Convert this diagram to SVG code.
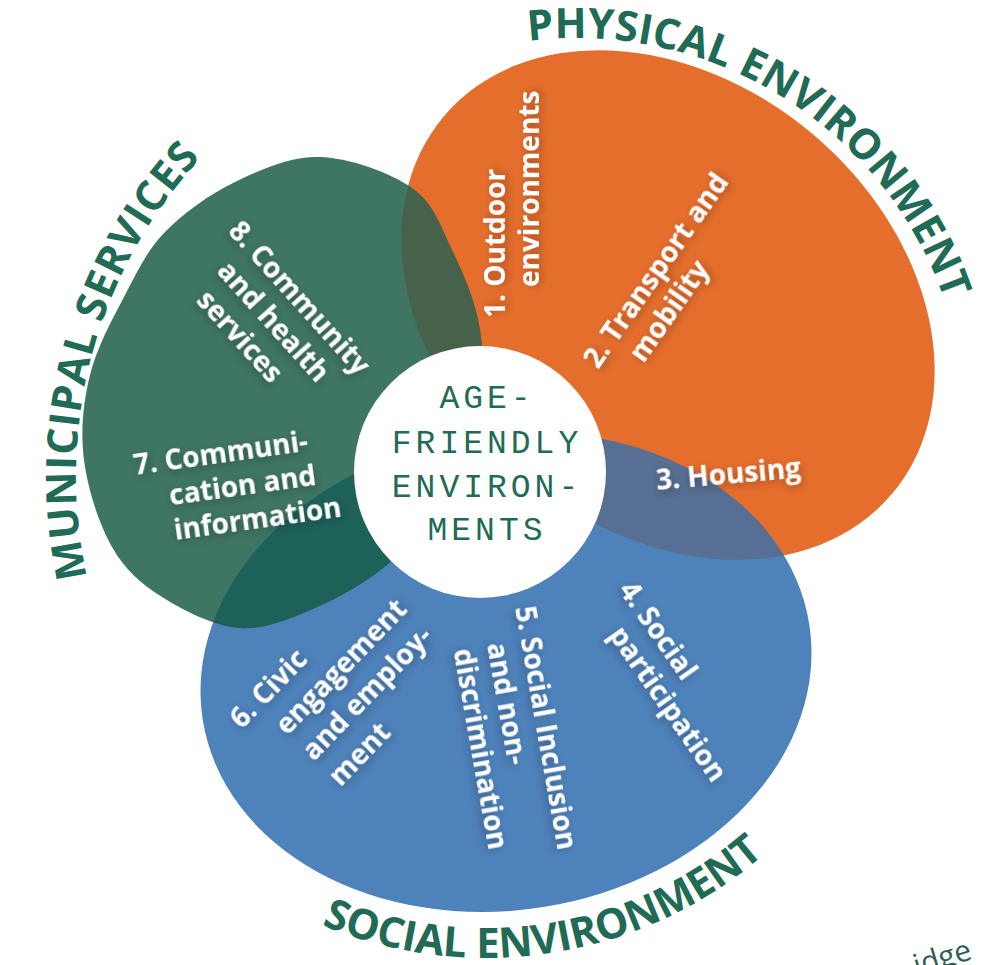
<svg xmlns="http://www.w3.org/2000/svg" xmlns:xlink="http://www.w3.org/1999/xlink" width="982" height="965" viewBox="0 0 982 965">
<style>
.lbl{font-family:"Open Sans","Liberation Sans",sans-serif;font-weight:700;font-size:28px;fill:#ffffff;filter:url(#sh)}
.ttl{font-family:"Open Sans","Liberation Sans",sans-serif;font-weight:700;font-size:42px;fill:#1f6b55}
.ctr{font-family:"Liberation Mono","DejaVu Sans Mono",monospace;font-size:33px;letter-spacing:4px;fill:#1f6b55;text-anchor:middle}
</style>
<defs>
<filter id="sh" x="-20%" y="-30%" width="140%" height="160%">
<feGaussianBlur in="SourceAlpha" stdDeviation="4"/>
<feOffset dx="1" dy="3" result="b"/>
<feComponentTransfer><feFuncA type="linear" slope="0.3"/></feComponentTransfer>
<feMerge><feMergeNode/><feMergeNode in="SourceGraphic"/></feMerge>
</filter>
<ellipse id="orangeShape" cx="668" cy="305" rx="293" ry="224" transform="rotate(40 668 305)"/>
<path id="greenShape" d="M320,157 C349.5,158 390,172.2 412,188 C434,203.8 440.7,226.3 452,250 C463.3,273.7 475.7,301.7 480,330 C484.3,358.3 484.7,390.8 478,420 C471.3,449.2 455.2,480.8 440,505 C424.8,529.2 407.8,547.8 387,565 C366.2,582.2 339.5,597.5 315,608 C290.5,618.5 265.5,629.8 240,628 C214.5,626.2 183.3,610.5 162,597 C140.7,583.5 125,569.8 112,547 C99,524.2 87.7,488.7 84,460 C80.3,431.3 83.2,402.5 90,375 C96.8,347.5 112.5,318.8 125,295 C137.5,271.2 146.7,250.8 165,232 C183.3,213.2 209.2,194.5 235,182 C260.8,169.5 290.5,156 320,157 Z"/>
<ellipse id="blueShape" cx="506" cy="672" rx="307" ry="238" transform="rotate(-9 506 672)"/>
<clipPath id="clipOrange"><use xlink:href="#orangeShape"/></clipPath>
<clipPath id="clipGreen"><use xlink:href="#greenShape"/></clipPath>
<path id="arcPhys" d="M528.5,40.9 A390,390 0 0 1 948,310.7"/>
<path id="arcMun" d="M87.1,577.3 A468,468 0 0 1 206.3,152.1"/>
<path id="arcSoc" d="M321.6,925 A426,426 0 0 0 769.3,850"/>
</defs>
<rect width="982" height="965" fill="#ffffff"/>
<g id="connectors"/>
<g id="physical-environment">
<use xlink:href="#orangeShape" fill="#e56e2d"/>
</g>
<g id="social-environment">
<use xlink:href="#blueShape" fill="#4e82bb"/>
</g>
<g id="municipal-services">
<use xlink:href="#greenShape" fill="#3f7563"/>
</g>
<g id="overlaps">
<use xlink:href="#greenShape" fill="#47624a" clip-path="url(#clipOrange)"/>
<use xlink:href="#blueShape" fill="#566f92" clip-path="url(#clipOrange)"/>
<use xlink:href="#blueShape" fill="#1e6158" clip-path="url(#clipGreen)"/>
</g>
<g id="center">
<circle cx="480" cy="472" r="126" fill="#ffffff"/>
<text class="ctr" x="487" y="408">AGE-</text>
<text class="ctr" x="487" y="453">FRIENDLY</text>
<text class="ctr" x="487" y="497">ENVIRON-</text>
<text class="ctr" x="487" y="540">MENTS</text>
</g>
<g id="titles">
<text class="ttl"><textPath xlink:href="#arcPhys" textLength="530" lengthAdjust="spacing">PHYSICAL ENVIRONMENT</textPath></text>
<text class="ttl"><textPath xlink:href="#arcMun" textLength="452" lengthAdjust="spacing">MUNICIPAL SERVICES</textPath></text>
<text class="ttl"><textPath xlink:href="#arcSoc" textLength="472" lengthAdjust="spacing">SOCIAL ENVIRONMENT</textPath></text>
<text x="0" y="0" transform="translate(917,976) rotate(-17)" font-family="Open Sans, Liberation Sans, sans-serif" font-size="30" fill="#2e5f57">idge</text>
</g>
<g id="label-1">
<text class="lbl" transform="translate(505,318) rotate(-90)"><tspan x="0" y="0">1. Outdoor</tspan><tspan x="31" y="34">environments</tspan></text>
</g>
<g id="label-2">
<text class="lbl" transform="translate(598,370) rotate(-55)"><tspan x="0" y="0">2. Transport and</tspan><tspan x="31" y="34">mobility</tspan></text>
</g>
<g id="label-3">
<text class="lbl" transform="translate(657,490) rotate(-5)">3. Housing</text>
</g>
<g id="label-4">
<text class="lbl" transform="translate(618,590) rotate(55)"><tspan x="0" y="0">4. Social</tspan><tspan x="31" y="34">participation</tspan></text>
</g>
<g id="label-5">
<text class="lbl" transform="translate(515,608) rotate(80)"><tspan x="0" y="0">5. Social Inclusion</tspan><tspan x="31" y="34">and non-</tspan><tspan x="31" y="68">discrimination</tspan></text>
</g>
<g id="label-6">
<text class="lbl" transform="translate(242,730) rotate(-46)"><tspan x="0" y="0">6. Civic</tspan><tspan x="27" y="37">engagement</tspan><tspan x="27" y="74">and employ-</tspan><tspan x="27" y="111">ment</tspan></text>
</g>
<g id="label-7">
<text class="lbl" transform="translate(135,475) rotate(-8)"><tspan x="0" y="0">7. Communi-</tspan><tspan x="31" y="35">cation and</tspan><tspan x="31" y="70">information</tspan></text>
</g>
<g id="label-8">
<text class="lbl" transform="translate(227,232) rotate(48)"><tspan x="0" y="0">8. Community</tspan><tspan x="22" y="35">and health</tspan><tspan x="30" y="70">services</tspan></text>
</g>
</svg>
